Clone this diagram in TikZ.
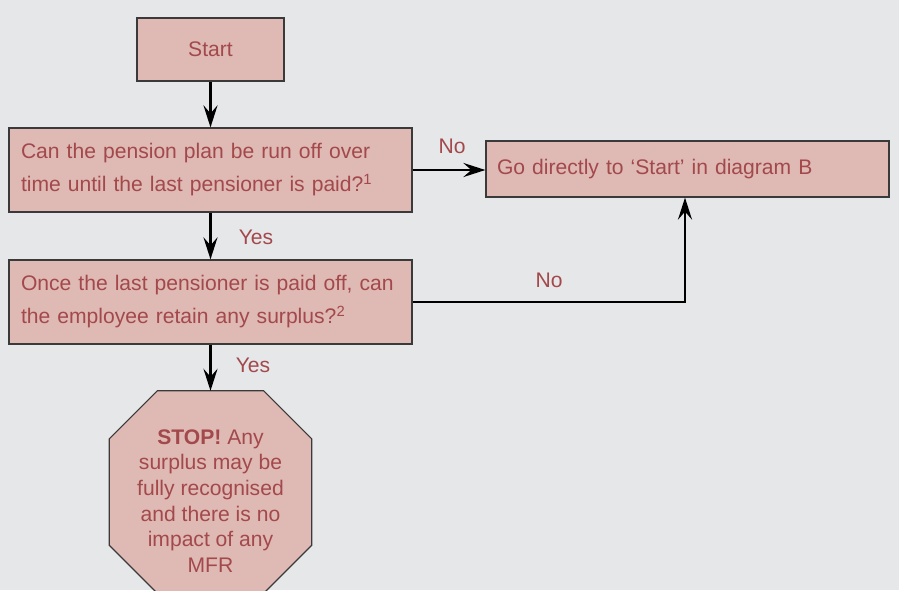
\documentclass[tikz,border=0pt]{standalone}
\usepackage{fontspec}
\setmainfont{Liberation Sans}
\usetikzlibrary{arrows.meta}
\definecolor{bggray}{HTML}{E6E7E9}
\definecolor{boxfill}{HTML}{DFB9B4}
\definecolor{boxtext}{HTML}{A3484B}
\definecolor{boxline}{HTML}{3A3A3A}
\tikzset{
  box/.style={draw=boxline, fill=boxfill, line width=1.2pt, rectangle},
  qbox/.style={box, minimum width=403pt, minimum height=84pt, text width=379pt, align=left},
  flow/.style={line width=2.8pt, -{Stealth[length=22pt, width=14pt, inset=8pt]}}
}

\begin{document}
\begin{tikzpicture}[x=1pt,y=-1pt]
\tikzstyle{every node}=[font=\fontsize{21.1}{33}\selectfont, text=boxtext, inner sep=0pt]
\clip (0,0) rectangle (899,590);
\fill[bggray] (0,0) rectangle (899,590);
% boxes
\draw (210.5,49.5) node (start) [box, minimum width=147pt, minimum height=63pt] {Start};
\draw (210.5,170) node (runoff) [qbox] {Can the pension plan be run off over\\time until the last pensioner is paid?\textsuperscript{1}};
\draw (687.5,169) node (diagb) [box, minimum width=403pt, minimum height=56pt, text width=381pt, align=left] {Go directly to ‘Start’ in diagram B};
\draw (210.5,302) node (surplus) [qbox] {Once the last pensioner is paid off, can\\the employee retain any surplus?\textsuperscript{2}};
% stop octagon
\draw (210.5,492) node (stop) [minimum width=202pt, minimum height=202pt] {};
\draw [draw=boxline, fill=boxfill, line width=1.2pt]
  ([xshift=48pt]stop.north west) -- ([xshift=-48pt]stop.north east)
  -- ([yshift=-48pt]stop.north east) -- ([yshift=48pt]stop.south east)
  -- ([xshift=-48pt]stop.south east) -- ([xshift=48pt]stop.south west)
  -- ([yshift=48pt]stop.south west) -- ([yshift=-48pt]stop.north west) -- cycle;
\draw (210.5,501) node (stoptext) [align=center, font=\fontsize{21.1}{25.6}\selectfont] {\textbf{STOP!} Any\\surplus may be\\fully recognised\\and there is no\\impact of any\\MFR};
% labels
\draw (452,146) node (no1) {No};
\draw (256,237) node (yes1) {Yes};
\draw (549,280) node (no2) {No};
\draw (253,365) node (yes2) {Yes};
% arrows
\draw [flow] (start) -- (runoff);
\draw [flow] (runoff.east) -- (runoff.east -| diagb.west);
\draw [flow] (runoff) -- (surplus);
\draw [flow] (surplus.east) -| ([xshift=-2.5pt]diagb.south);
\draw [flow] (surplus.south) -- (stop.north);
\end{tikzpicture}
\end{document}
